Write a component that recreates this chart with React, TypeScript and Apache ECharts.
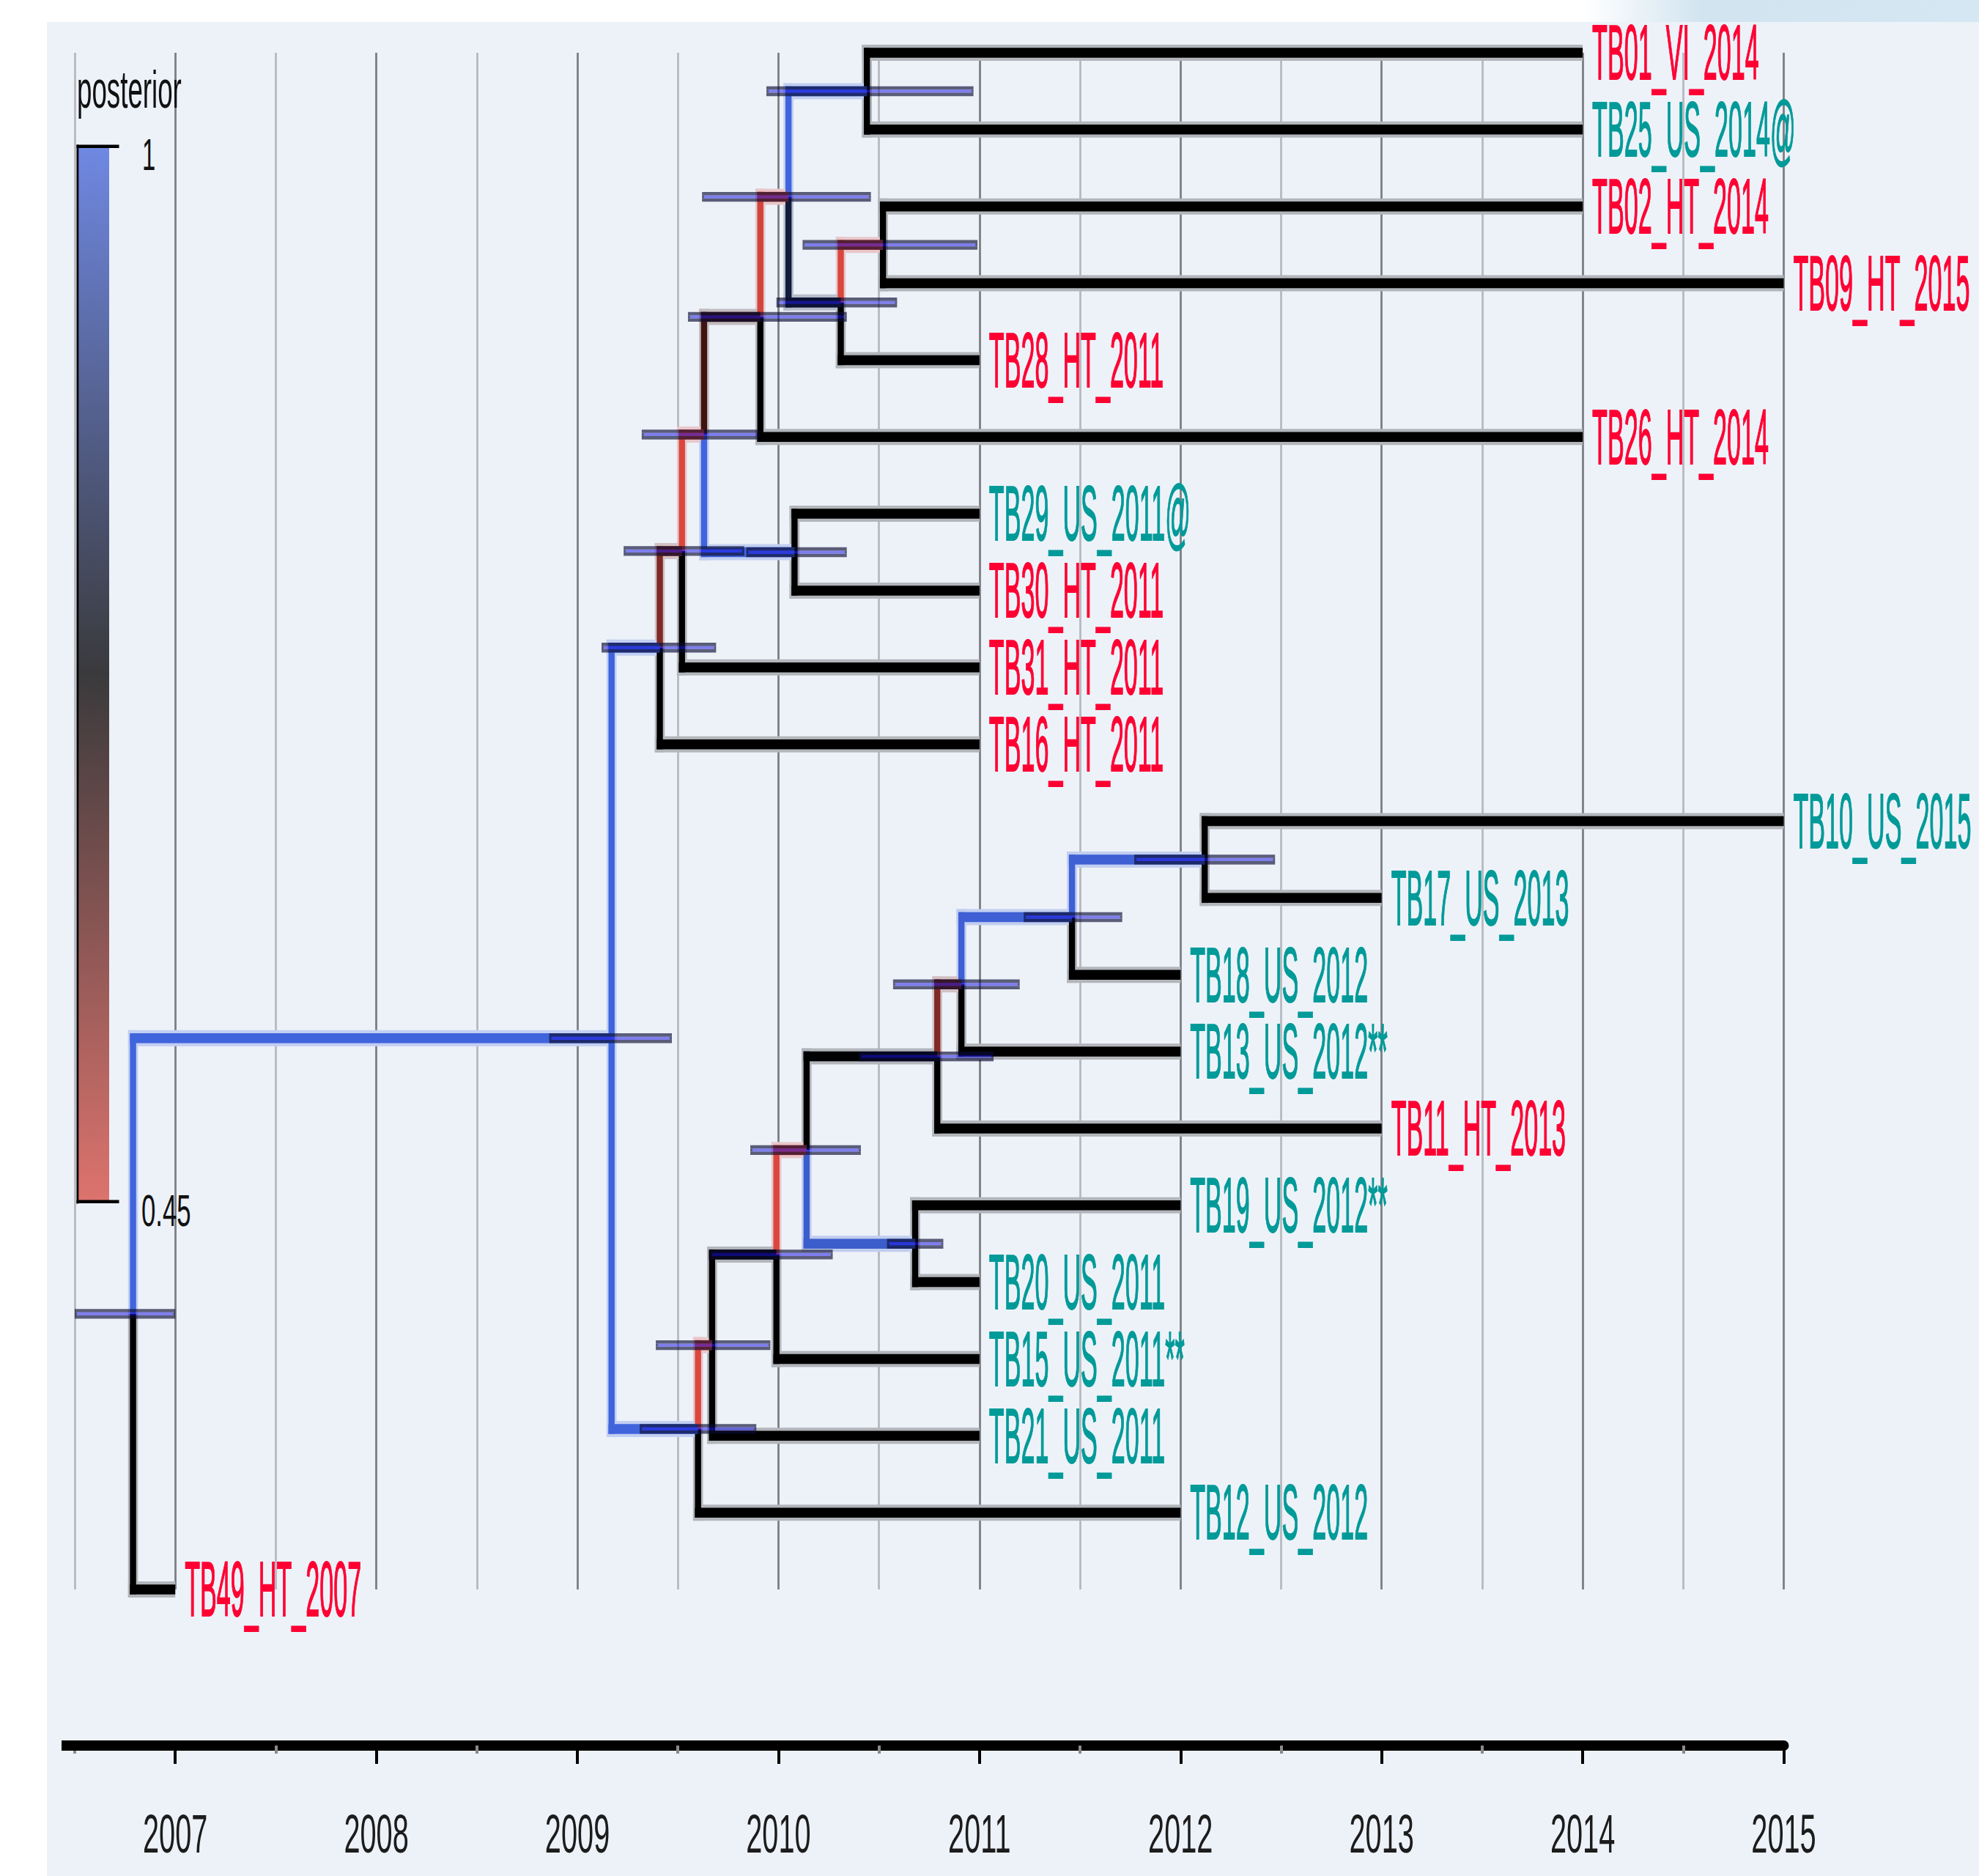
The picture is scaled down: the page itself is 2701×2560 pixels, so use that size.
import React, { useEffect, useRef } from 'react';
import * as echarts from 'echarts';

// ---------------- data ----------------
const tipLabels = [
  'TB01_VI_2014', 'TB25_US_2014@', 'TB02_HT_2014', 'TB09_HT_2015', 'TB28_HT_2011',
  'TB26_HT_2014', 'TB29_US_2011@', 'TB30_HT_2011', 'TB31_HT_2011', 'TB16_HT_2011',
  'TB10_US_2015', 'TB17_US_2013', 'TB18_US_2012', 'TB13_US_2012**', 'TB11_HT_2013',
  'TB19_US_2012**', 'TB20_US_2011', 'TB15_US_2011**', 'TB21_US_2011', 'TB12_US_2012',
  'TB49_HT_2007',
];
const tipDates = [2014, 2014, 2014, 2015, 2011, 2014, 2011, 2011, 2011, 2011, 2015, 2013, 2012, 2012, 2013, 2012, 2011, 2011, 2011, 2012, 2007];
const tipLocations = ['VI', 'US', 'HT', 'HT', 'HT', 'HT', 'US', 'HT', 'HT', 'HT', 'US', 'US', 'US', 'US', 'HT', 'US', 'US', 'US', 'US', 'US', 'HT'];

const nodeNames = ['A', 'B', 'C', 'D', 'E', 'F', 'H', 'I', 'J', 'M', 'N', 'O', 'P', 'Q', 'U', 'V', 'W', 'L', 'K', 'R'];
const nodeChildren = [
  ['t0', 't1'], ['t2', 't3'], ['B', 't4'], ['A', 'C'], ['D', 't5'], ['t6', 't7'], ['E', 'F'], ['H', 't8'], ['I', 't9'],
  ['t10', 't11'], ['M', 't12'], ['N', 't13'], ['O', 't14'], ['t15', 't16'], ['P', 'Q'], ['U', 't17'], ['V', 't18'], ['W', 't19'],
  ['J', 'L'], ['K', 't20'],
];
const nodeDates = [2010.44, 2010.52, 2010.31, 2010.05, 2009.91, 2010.08, 2009.63, 2009.52, 2009.41, 2012.12, 2011.46, 2010.91, 2010.79, 2010.68, 2010.14, 2009.99, 2009.67, 2009.60, 2009.17, 2006.79];
const nodePosterior = [1.0, 0.46, 0.80, 0.47, 0.65, 1.0, 0.46, 0.57, 1.0, 0.99, 0.99, 0.57, 0.73, 0.98, 0.46, 0.72, 0.46, 1.0, 1.0, 1.0];
const hpdLower = [2009.94, 2010.12, 2009.99, 2009.62, 2009.55, 2009.84, 2009.32, 2009.23, 2009.12, 2011.77, 2011.22, 2010.57, 2010.40, 2010.54, 2009.86, 2009.66, 2009.39, 2009.31, 2008.86, 2006.50];
const hpdUpper = [2010.97, 2010.99, 2010.59, 2010.46, 2010.34, 2010.34, 2009.90, 2009.83, 2009.69, 2012.47, 2011.71, 2011.20, 2011.07, 2010.82, 2010.41, 2010.27, 2009.96, 2009.89, 2009.47, 2007.00];

const majorYears = [2007, 2008, 2009, 2010, 2011, 2012, 2013, 2014, 2015];
const minorYears = [2006.5, 2007.5, 2008.5, 2009.5, 2010.5, 2011.5, 2012.5, 2013.5, 2014.5];
const legendTitle = 'posterior';
const legendMaxLabel = '1';
const legendMinLabel = '0.45';

// ---------------- styling helpers ----------------
const locationColors: any = { HT: '#ff0033', VI: '#ff0033', US: '#009a98' };
const BG = [237, 242, 249];
const RED = [226, 74, 64];
const BLUE = [64, 100, 220];
const FONT = 'Liberation Sans, Arial, sans-serif';

function branchRGB(p: number): number[] {
  if (p < 0) return [0, 0, 0];
  if (p <= 0.725) {
    const t = Math.min(1, (0.725 - p) / 0.275);
    return RED.map((c) => Math.round(c * t));
  }
  const t = Math.min(1, (p - 0.725) / 0.275);
  return BLUE.map((c) => Math.round(c * t));
}
function lineColor(p: number) {
  const c = branchRGB(p);
  return `rgb(${c[0]},${c[1]},${c[2]})`;
}
function haloColor(p: number) {
  const c = branchRGB(p);
  const a = 0.25;
  const m = c.map((v, i) => Math.round(v * a + BG[i] * (1 - a)));
  return `rgb(${m[0]},${m[1]},${m[2]})`;
}

// ---------------- tree layout ----------------
const nodeIdx: any = {};
nodeNames.forEach((n, i) => (nodeIdx[n] = i));
const yCache: any = {};
function refY(ref: string): number {
  if (ref[0] === 't') return Number(ref.slice(1));
  if (yCache[ref] !== undefined) return yCache[ref];
  const ch = nodeChildren[nodeIdx[ref]];
  const y = (refY(ch[0]) + refY(ch[1])) / 2;
  yCache[ref] = y;
  return y;
}
function refX(ref: string): number {
  return ref[0] === 't' ? tipDates[Number(ref.slice(1))] : nodeDates[nodeIdx[ref]];
}
function refPost(ref: string): number {
  return ref[0] === 't' ? -1 : nodePosterior[nodeIdx[ref]];
}

const branchData: number[][] = [];
nodeNames.forEach((n, i) => {
  nodeChildren[i].forEach((c) => {
    branchData.push([nodeDates[i], refY(n), refX(c), refY(c), refPost(c)]);
  });
});
const hpdData = nodeNames.map((n, i) => [hpdLower[i], refY(n), hpdUpper[i]]);
const tipData = tipDates.map((d, i) => [d, i]);
const yearData = majorYears.map((y) => [y, 20]);

// ---------------- renderers ----------------
function renderHalo(params: any, api: any) {
  const p0 = api.coord([api.value(0), api.value(1)]);
  const p1 = api.coord([api.value(2), api.value(3)]);
  const fill = haloColor(api.value(4));
  const HV = 6.8, HH = 11;
  const up = p1[1] < p0[1];
  const vy = up ? p1[1] - HH : p0[1];
  const vh = Math.abs(p1[1] - p0[1]) + HH;
  return {
    type: 'group',
    children: [
      { type: 'rect', shape: { x: p0[0] - HV, y: vy, width: 2 * HV, height: vh }, style: { fill } },
      { type: 'rect', shape: { x: p0[0] - HV, y: p1[1] - HH, width: p1[0] - p0[0] + HV, height: 2 * HH }, style: { fill } },
    ],
  };
}

function renderBranch(params: any, api: any) {
  const p0 = api.coord([api.value(0), api.value(1)]);
  const p1 = api.coord([api.value(2), api.value(3)]);
  const fill = lineColor(api.value(4));
  const LV = 4.2, LH = 6.75;
  const up = p1[1] < p0[1];
  const vy = up ? p1[1] - LH : p0[1];
  const vh = Math.abs(p1[1] - p0[1]) + LH;
  return {
    type: 'group',
    children: [
      { type: 'rect', shape: { x: p0[0] - LV, y: vy, width: 2 * LV, height: vh }, style: { fill } },
      { type: 'rect', shape: { x: p0[0] - LV, y: p1[1] - LH, width: p1[0] - p0[0] + LV, height: 2 * LH }, style: { fill } },
    ],
  };
}

function renderHpd(params: any, api: any) {
  const a = api.coord([api.value(0), api.value(1)]);
  const b = api.coord([api.value(2), api.value(1)]);
  const y = a[1], x0 = a[0], w = b[0] - a[0];
  const H = 6.7, IH = 2.1, CAP = 3;
  const frame = 'rgba(10,12,50,0.65)';
  const inner = 'rgba(24,20,226,0.52)';
  return {
    type: 'group',
    children: [
      { type: 'rect', shape: { x: x0, y: y - H, width: w, height: H - IH }, style: { fill: frame } },
      { type: 'rect', shape: { x: x0, y: y + IH, width: w, height: H - IH }, style: { fill: frame } },
      { type: 'rect', shape: { x: x0, y: y - IH, width: CAP, height: 2 * IH }, style: { fill: frame } },
      { type: 'rect', shape: { x: x0 + w - CAP, y: y - IH, width: CAP, height: 2 * IH }, style: { fill: frame } },
      { type: 'rect', shape: { x: x0 + CAP, y: y - IH, width: w - 2 * CAP, height: 2 * IH }, style: { fill: inner } },
    ],
  };
}

function renderTip(params: any, api: any) {
  const i = params.dataIndex;
  const p = api.coord([api.value(0), api.value(1)]);
  const col = locationColors[tipLocations[i]];
  return {
    type: 'text',
    x: p[0] + 13,
    y: p[1],
    scaleX: 0.322,
    style: {
      text: tipLabels[i],
      fill: col,
      stroke: col,
      lineWidth: 1.8,
      fontSize: 106,
      fontFamily: FONT,
      align: 'left',
      verticalAlign: 'middle',
    },
  };
}

function renderYear(params: any, api: any) {
  const p = api.coord([api.value(0), api.value(1)]);
  return {
    type: 'text',
    x: p[0],
    y: p[1] + 333,
    scaleX: 0.53,
    style: {
      text: String(api.value(0)),
      fill: '#1c1c1c',
      fontSize: 75,
      fontFamily: FONT,
      align: 'center',
      verticalAlign: 'middle',
    },
  };
}

const option: any = {
  animation: false,
  backgroundColor: '#ffffff',
  grid: { left: 102, top: 72, width: 2332.5, height: 2097 },
  xAxis: [
    {
      type: 'value',
      min: 2006.5,
      max: 2015,
      interval: 0.5,
      position: 'bottom',
      offset: 213,
      axisLine: { show: true, onZero: false, lineStyle: { color: '#000000', width: 14 } },
      axisTick: { show: true, customValues: majorYears, length: 25, lineStyle: { color: '#000000', width: 4 } },
      axisLabel: { show: false },
      splitLine: { show: true, lineStyle: { color: '#7c7e82', width: 2.8 } },
    },
    {
      type: 'value',
      min: 2006.5,
      max: 2015,
      interval: 0.5,
      position: 'bottom',
      offset: 213,
      axisLine: { show: false, onZero: false },
      axisTick: { show: true, customValues: minorYears, length: 11, lineStyle: { color: '#8a8a8a', width: 4 } },
      axisLabel: { show: false },
      splitLine: { show: true, lineStyle: { color: '#b7b9bd', width: 2.8 } },
    },
  ],
  yAxis: { type: 'value', inverse: true, min: 0, max: 20, show: false },
  graphic: {
    elements: [
      { type: 'rect', z: -100, silent: true, shape: { x: 64, y: 30, width: 2637, height: 2530 }, style: { fill: '#edf2f9' } },
      {
        type: 'rect', z: -100, silent: true, shape: { x: 2100, y: 0, width: 601, height: 30 },
        style: {
          fill: new echarts.graphic.LinearGradient(0, 0, 1, 0, [
            { offset: 0.1, color: 'rgba(211,229,241,0)' },
            { offset: 0.37, color: '#d2e4f0' },
            { offset: 1, color: '#d5e7f2' },
          ]),
        },
      },
      // axis line overhang on the left
      { type: 'rect', z: 5, silent: true, shape: { x: 84, y: 2375, width: 20, height: 14 }, style: { fill: '#000000' } },
      // legend gradient
      {
        type: 'rect', z: 10, silent: true, shape: { x: 107, y: 201, width: 42, height: 1438 },
        style: {
          fill: new echarts.graphic.LinearGradient(0, 0, 0, 1, [
            { offset: 0, color: '#6f88e2' },
            { offset: 0.5, color: '#3a3a3c' },
            { offset: 1, color: '#dd736d' },
          ]),
        },
      },
      { type: 'rect', z: 10, silent: true, shape: { x: 104.5, y: 197.5, width: 2.8, height: 1445 }, style: { fill: '#000000' } },
      { type: 'rect', z: 10, silent: true, shape: { x: 104.5, y: 197.5, width: 58, height: 4.5 }, style: { fill: '#000000' } },
      { type: 'rect', z: 10, silent: true, shape: { x: 104.5, y: 1637.5, width: 58, height: 4.5 }, style: { fill: '#000000' } },
      {
        type: 'text', z: 10, silent: true, x: 105, y: 122, scaleX: 0.51,
        style: { text: legendTitle, fill: '#111111', fontSize: 72, fontFamily: FONT, align: 'left', verticalAlign: 'middle' },
      },
      {
        type: 'text', z: 10, silent: true, x: 194, y: 211, scaleX: 0.53,
        style: { text: legendMaxLabel, fill: '#111111', fontSize: 62, fontFamily: FONT, align: 'left', verticalAlign: 'middle' },
      },
      {
        type: 'text', z: 10, silent: true, x: 193, y: 1652, scaleX: 0.56,
        style: { text: legendMinLabel, fill: '#111111', fontSize: 62, fontFamily: FONT, align: 'left', verticalAlign: 'middle' },
      },
    ],
  },
  series: [
    { type: 'custom', name: 'halo', coordinateSystem: 'cartesian2d', z: 2, silent: true, clip: false, data: branchData, renderItem: renderHalo },
    { type: 'custom', name: 'branches', coordinateSystem: 'cartesian2d', z: 3, silent: true, clip: false, data: branchData, renderItem: renderBranch },
    { type: 'custom', name: 'hpd', coordinateSystem: 'cartesian2d', z: 4, silent: true, clip: false, data: hpdData, renderItem: renderHpd },
    { type: 'custom', name: 'tips', coordinateSystem: 'cartesian2d', z: 5, silent: true, clip: false, data: tipData, renderItem: renderTip },
    { type: 'custom', name: 'years', coordinateSystem: 'cartesian2d', z: 5, silent: true, clip: false, data: yearData, renderItem: renderYear },
  ],
};

export default function App() {
  const ref = useRef<HTMLDivElement>(null);
  useEffect(() => {
    const chart = echarts.init(ref.current as HTMLDivElement, null, { renderer: 'svg' });
    chart.setOption(option);
    return () => chart.dispose();
  }, []);
  return <div ref={ref} style={{ position: 'absolute', left: 0, top: 0, width: 2701, height: 2560 }} />;
}
